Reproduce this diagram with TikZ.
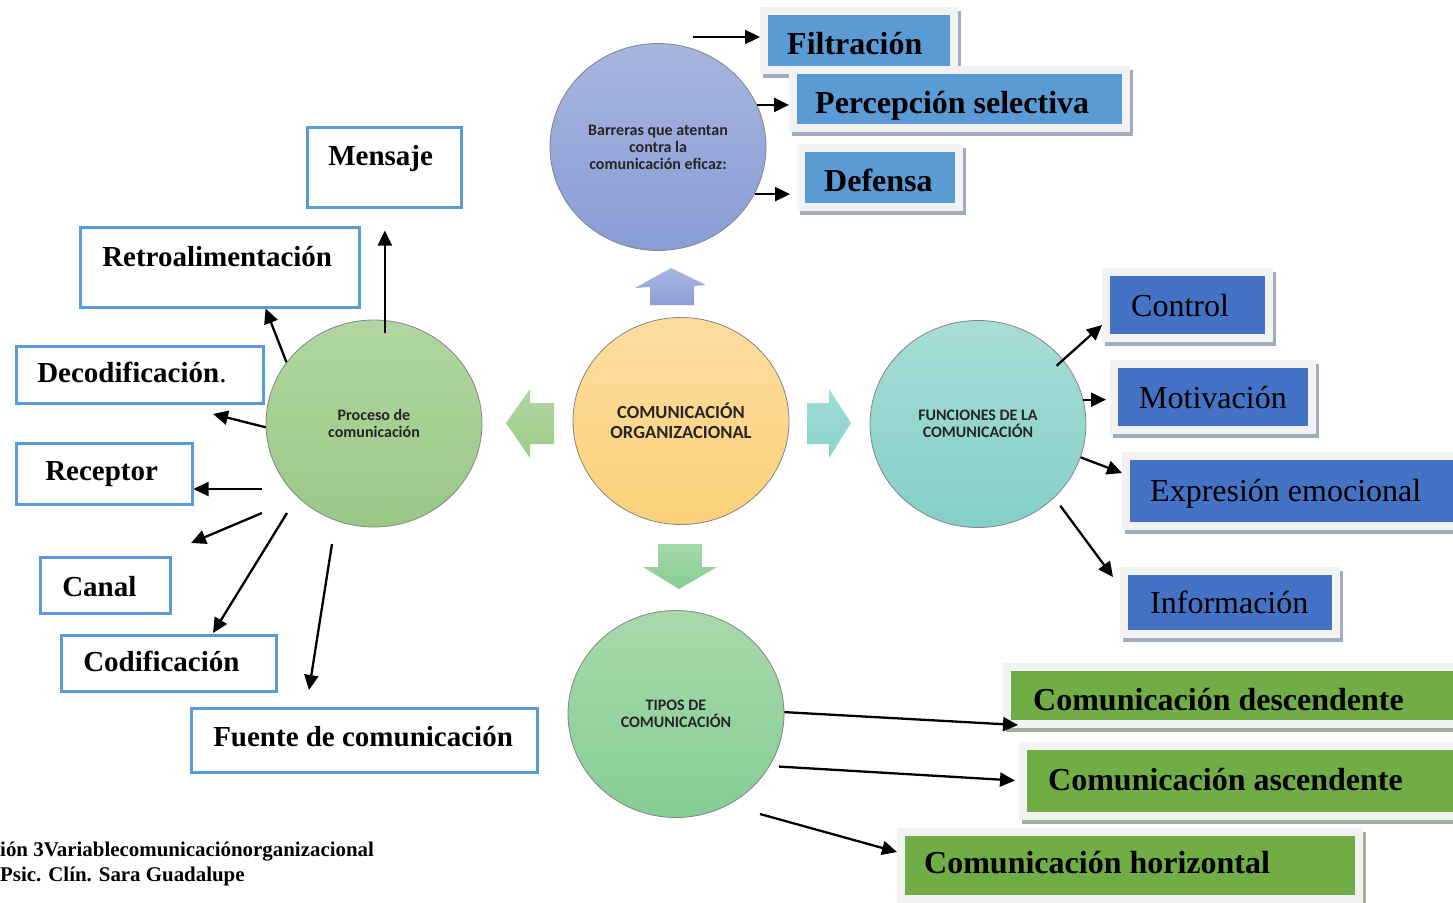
\documentclass[tikz,border=0pt]{standalone}
\usepackage{fontspec}
\setmainfont{Liberation Serif}
\newfontfamily\calfont{Carlito}
\usetikzlibrary{shapes.geometric,arrows.meta}

\definecolor{tileblue}{HTML}{5B9BD5}
\definecolor{tilenavy}{HTML}{4472C4}
\definecolor{tilegreen}{HTML}{70AD47}
\definecolor{framegray}{HTML}{F2F2F2}
\definecolor{shadeblue}{HTML}{A3ACBF}
\definecolor{shadegreen}{HTML}{A4AE99}
\definecolor{outline}{HTML}{5B9BD5}
\definecolor{ringgray}{HTML}{858585}

% fixed-width label with a left indent
\newcommand\tiletext[3]{\makebox[#1pt][l]{\hspace*{#2pt}#3}}

\tikzset{
  tile/.style={fill=#1, anchor=north west, inner sep=0pt,
    text height=21pt, text depth=0pt,
    preaction={draw=shadeblue, line width=16pt, transform canvas={shift={(3pt,-4pt)}}},
    preaction={draw=framegray, line width=16pt}},
  gtile/.style={fill=tilegreen, anchor=north west, inner sep=0pt,
    text height=21pt, text depth=0pt,
    preaction={draw=shadegreen, line width=16pt, transform canvas={shift={(3pt,-4pt)}}},
    preaction={draw=framegray, line width=16pt}},
  boldbig/.style={font=\bfseries\fontsize{32}{38}\selectfont},
  plainbig/.style={font=\fontsize{32}{38}\selectfont},
  wbox/.style={draw=outline, line width=2.5pt, fill=white, anchor=north west,
    inner sep=0pt, text height=19pt, text depth=0pt,
    font=\bfseries\fontsize{29}{34}\selectfont},
  ring/.style={ellipse, draw=ringgray, line width=0.8pt, inner sep=0pt,
    minimum width=216pt, minimum height=207pt, align=center, text=black!85,
    font=\calfont\bfseries\fontsize{16}{17}\selectfont},
  arr/.style={line width=2.3pt, -{Triangle[length=15pt,width=14pt]}},
  foot/.style={anchor=base west, inner sep=0pt, font=\bfseries\fontsize{20.9}{25}\selectfont}
}

\begin{document}
\begin{tikzpicture}[x=1pt, y=-1pt]
\useasboundingbox (0,0) rectangle (1453,902);
\fill[white] (0,0) rectangle (1453,902);

% ---- circles ----
\node[ring, top color={rgb,255:red,167;green,181;blue,224}, bottom color={rgb,255:red,136;green,157;blue,213}]
  (barr) at (658,147) {Barreras que atentan\\contra la\\comunicación eficaz:};
\node[ring, font=\calfont\bfseries\fontsize{18.5}{20}\selectfont,
  top color={rgb,255:red,252;green,220;blue,159}, bottom color={rgb,255:red,251;green,209;blue,121}]
  (core) at (681,421) {COMUNICACIÓN\\ORGANIZACIONAL};
\node[ring, top color={rgb,255:red,177;green,214;blue,161}, bottom color={rgb,255:red,154;green,200;blue,134}]
  (proc) at (374,423.5) {Proceso de\\comunicación};
\node[ring, top color={rgb,255:red,168;green,221;blue,215}, bottom color={rgb,255:red,131;green,207;blue,199}]
  (func) at (978,424) {FUNCIONES DE LA\\COMUNICACIÓN};
\node[ring, top color={rgb,255:red,168;green,217;blue,172}, bottom color={rgb,255:red,133;green,205;blue,149}]
  (tipos) at (676,714) {TIPOS DE\\COMUNICACIÓN};

% ---- block arrows around the central circle ----
\shade[top color={rgb,255:red,169;green,183;blue,226}, bottom color={rgb,255:red,138;green,159;blue,215}]
  (671,268) -- (706,285) -- (694,286) -- (694,305) -- (650,305) -- (650,287) -- (635,288) -- cycle;
\shade[top color={rgb,255:red,178;green,215;blue,163}, bottom color={rgb,255:red,158;green,203;blue,137}]
  (506,423) -- (530,389) -- (530,403) -- (554,403) -- (554,444) -- (530,444) -- (530,458) -- cycle;
\shade[top color={rgb,255:red,163;green,221;blue,215}, bottom color={rgb,255:red,138;green,210;blue,203}]
  (851,423) -- (829,389) -- (829,403) -- (807,403) -- (807,444) -- (829,444) -- (829,458) -- cycle;
\shade[top color={rgb,255:red,163;green,216;blue,168}, bottom color={rgb,255:red,134;green,205;blue,150}]
  (658,544) -- (702,544) -- (702,567) -- (717,567) -- (679,589) -- (643,567) -- (658,567) -- cycle;

% ---- barriers ----
\node[tile=tileblue, boldbig, minimum height=51pt, text height=27pt] (filtr) at (768,15) {\tiletext{182}{19}{Filtración}};
\node[tile=tileblue, boldbig, minimum height=50pt, text height=29pt] (percep) at (797,74) {\tiletext{325}{18}{Percepción selectiva}};
\node[tile=tileblue, boldbig, minimum height=51pt, text height=27pt] (defensa) at (805,152) {\tiletext{150}{19}{Defensa}};

% ---- functions ----
\node[tile=tilenavy, plainbig, minimum height=58pt, text height=23pt] (control) at (1110,276) {\tiletext{155}{21}{Control}};
\node[tile=tilenavy, plainbig, minimum height=58pt, text height=23pt] (motiv) at (1118,368) {\tiletext{190}{21}{Motivación}};
\node[tile=tilenavy, plainbig, minimum height=62pt] (expr) at (1130,460) {\tiletext{340}{20}{Expresión emocional}};
\node[tile=tilenavy, plainbig, minimum height=55pt] (info) at (1128,575) {\tiletext{204}{22}{Información}};

% ---- types ----
\node[gtile, boldbig, minimum height=49pt, text height=29pt] (desc) at (1011,671) {\tiletext{460}{22}{Comunicación descendente}};
\node[gtile, boldbig, minimum height=62pt, text depth=2pt] (asc) at (1027,750) {\tiletext{440}{21}{Comunicación ascendente}};
\node[gtile, boldbig, minimum height=59pt, text depth=5pt] (hori) at (905,836) {\tiletext{450}{19}{Comunicación horizontal}};

% ---- process elements ----
\node[wbox, minimum height=80pt, text depth=23pt] (mensaje) at (306,126) {\tiletext{154}{21}{Mensaje}};
\node[wbox, minimum height=80pt, text depth=21pt] (retro) at (79,226) {\tiletext{279}{22}{Retroalimentación}};
\node[wbox, minimum height=57pt, text depth=4pt] (decod) at (15,345) {\tiletext{247}{21}{Decodificación{\mdseries .}}};
\node[wbox, minimum height=61pt, text depth=6pt] (receptor) at (15,442) {\tiletext{176}{29}{Receptor}};
\node[wbox, minimum height=56pt, text height=23pt] (canal) at (39,556) {\tiletext{130}{22}{Canal}};
\node[wbox, minimum height=56pt, text depth=2pt] (codif) at (60,634) {\tiletext{215}{22}{Codificación}};
\node[wbox, minimum height=64pt, text depth=6pt] (fuente) at (190,707) {\tiletext{346}{22}{Fuente de comunicación}};

% ---- free arrow ends ----
\coordinate (decTip) at (213,414);
\coordinate (recTail) at (262,489);
\coordinate (canTail) at (262,513);
\coordinate (canTip) at (191,543);
\coordinate (codTail) at (287,513);
\coordinate (codTip) at (213,633);
\coordinate (fueTail) at (332,544);
\coordinate (fueTip) at (309,690);
\coordinate (filTail) at (693,37);
\coordinate (ctlTip) at (1102,325);
\coordinate (expTip) at (1122,473);
\coordinate (infTip) at (1113,577);
\coordinate (desTip) at (1018,725);
\coordinate (horTail) at (760,814);
\coordinate (horTip) at (897,852);

% ---- connectors ----
\draw[arr, shorten <=-13pt, shorten >=22pt] (proc.84) -- (proc.84 |- mensaje.south);
\draw[arr] (proc.145) -- (retro.-42);
\draw[arr] (proc.182) -- (decTip);
\draw[arr] (recTail) -- (recTail -| receptor.east);
\draw[arr] (canTail) -- (canTip);
\draw[arr] (codTail) -- (codTip);
\draw[arr] (fueTail) -- (fueTip);

\draw[arr, shorten >=8pt] (filTail) -- (filTail -| filtr.west);
\draw[arr, shorten >=8pt] (barr.23) -- (barr.23 -| percep.west);
\draw[arr, shorten >=15pt] (barr.-26) -- (barr.-26 -| defensa.west);

\draw[arr, shorten <=-9pt] (func.37) -- (ctlTip);
\draw[arr, shorten >=12pt] (func.13) -- (func.13 -| motiv.west);
\draw[arr] (func.-18) -- (expTip);
\draw[arr, shorten <=10pt] (func.-44) -- (infTip);

\draw[arr] (tipos.1) -- (desTip);
\draw[arr, shorten <=9pt, shorten >=12pt] (tipos.-29) -- (asc.west);
\draw[arr] (horTail) -- (horTip);

% ---- caption lines ----
\node[foot] (cap1) at (0,856) {ión 3Variablecomunicaciónorganizacional};
\node[foot] (cap2) at (0,881) {Psic. Clín. Sara Guadalupe};
\end{tikzpicture}
\end{document}
